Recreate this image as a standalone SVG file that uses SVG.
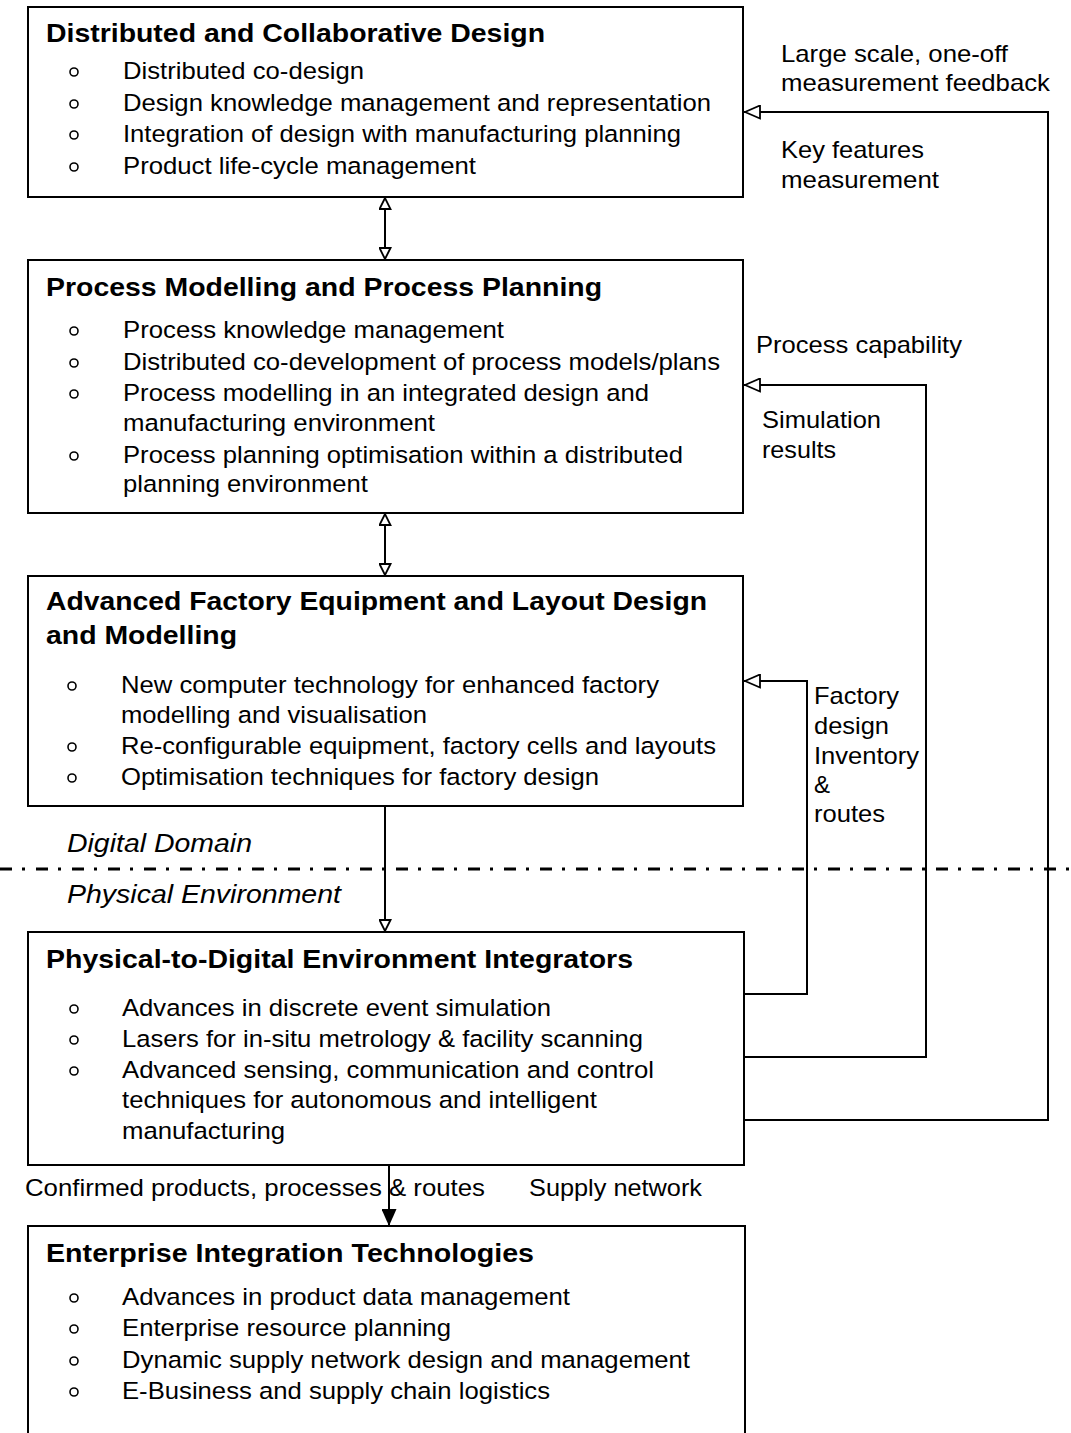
<svg xmlns="http://www.w3.org/2000/svg" width="1071" height="1433" viewBox="0 0 1071 1433">
<style>
text{font-family:"Liberation Sans",Arial,sans-serif;fill:#000}
.t{font-size:25px;font-weight:bold}
.b{font-size:24.5px}
.l{font-size:24px}
.i{font-size:25.5px;font-style:italic}
.box{fill:#fff;stroke:#000;stroke-width:2}
.dot{fill:none;stroke:#000;stroke-width:1.6}
.c{fill:none;stroke:#000;stroke-width:2}
</style>
<defs>
<marker id="open" viewBox="0 0 13 13" refX="13" refY="6.5" markerWidth="13" markerHeight="13" markerUnits="userSpaceOnUse" orient="auto-start-reverse">
<path d="M1,1 L12,6.5 L1,12 Z" fill="#fff" stroke="#000" stroke-width="1.8"/>
</marker>
<marker id="openL" viewBox="0 0 17 15" refX="17" refY="7.5" markerWidth="17" markerHeight="15" markerUnits="userSpaceOnUse" orient="auto">
<path d="M1,1 L16,7.5 L1,14 Z" fill="#fff" stroke="#000" stroke-width="1.8"/>
</marker>
<marker id="fill" viewBox="0 0 17 15" refX="17" refY="7.5" markerWidth="17" markerHeight="15" markerUnits="userSpaceOnUse" orient="auto">
<path d="M0,0 L17,7.5 L0,15 Z" fill="#000"/>
</marker>
</defs>
<rect width="1071" height="1433" fill="#fff"/>

<g id="connectors">
<line class="c" x1="385" y1="197" x2="385" y2="260" marker-start="url(#open)" marker-end="url(#open)"/>
<line class="c" x1="385" y1="513" x2="385" y2="576" marker-start="url(#open)" marker-end="url(#open)"/>
<line class="c" x1="385" y1="806" x2="385" y2="932" marker-end="url(#open)"/>
<line class="c" x1="389" y1="1165" x2="389" y2="1226" marker-end="url(#fill)"/>
<polyline class="c" points="744,1120 1048,1120 1048,112 744,112" marker-end="url(#openL)"/>
<polyline class="c" points="744,1057 926,1057 926,385 744,385" marker-end="url(#openL)"/>
<polyline class="c" points="744,994 807,994 807,681 744,681" marker-end="url(#openL)"/>
<line x1="0" y1="869" x2="1071" y2="869" stroke="#000" stroke-width="3" stroke-dasharray="12 10 3 11"/>
</g>

<g id="n1">
<rect class="box" x="28" y="7" width="715" height="190"/>
<text class="t" x="46" y="42" textLength="499" lengthAdjust="spacingAndGlyphs">Distributed and Collaborative Design</text>
<circle class="dot" cx="74" cy="72" r="4"/><text class="b" x="123" y="79" textLength="241" lengthAdjust="spacingAndGlyphs">Distributed co-design</text>
<circle class="dot" cx="74" cy="104" r="4"/><text class="b" x="123" y="111" textLength="588" lengthAdjust="spacingAndGlyphs">Design knowledge management and representation</text>
<circle class="dot" cx="74" cy="135" r="4"/><text class="b" x="123" y="142" textLength="558" lengthAdjust="spacingAndGlyphs">Integration of design with manufacturing planning</text>
<circle class="dot" cx="74" cy="167" r="4"/><text class="b" x="123" y="174" textLength="353" lengthAdjust="spacingAndGlyphs">Product life-cycle management</text>
</g>

<g id="n2">
<rect class="box" x="28" y="260" width="715" height="253"/>
<text class="t" x="46" y="296" textLength="556" lengthAdjust="spacingAndGlyphs">Process Modelling and Process Planning</text>
<circle class="dot" cx="74" cy="331" r="4"/><text class="b" x="123" y="338" textLength="381" lengthAdjust="spacingAndGlyphs">Process knowledge management</text>
<circle class="dot" cx="74" cy="363" r="4"/><text class="b" x="123" y="370" textLength="597" lengthAdjust="spacingAndGlyphs">Distributed co-development of process models/plans</text>
<circle class="dot" cx="74" cy="394" r="4"/><text class="b" x="123" y="401" textLength="526" lengthAdjust="spacingAndGlyphs">Process modelling in an integrated design and</text>
<text class="b" x="123" y="431" textLength="312" lengthAdjust="spacingAndGlyphs">manufacturing environment</text>
<circle class="dot" cx="74" cy="456" r="4"/><text class="b" x="123" y="463" textLength="560" lengthAdjust="spacingAndGlyphs">Process planning optimisation within a distributed</text>
<text class="b" x="123" y="492" textLength="245" lengthAdjust="spacingAndGlyphs">planning environment</text>
</g>

<g id="n3">
<rect class="box" x="28" y="576" width="715" height="230"/>
<text class="t" x="46" y="610" textLength="661" lengthAdjust="spacingAndGlyphs">Advanced Factory Equipment and Layout Design</text>
<text class="t" x="46" y="644" textLength="191" lengthAdjust="spacingAndGlyphs">and Modelling</text>
<circle class="dot" cx="72" cy="686" r="4"/><text class="b" x="121" y="693" textLength="538" lengthAdjust="spacingAndGlyphs">New computer technology for enhanced factory</text>
<text class="b" x="121" y="723" textLength="306" lengthAdjust="spacingAndGlyphs">modelling and visualisation</text>
<circle class="dot" cx="72" cy="747" r="4"/><text class="b" x="121" y="754" textLength="595" lengthAdjust="spacingAndGlyphs">Re-configurable equipment, factory cells and layouts</text>
<circle class="dot" cx="72" cy="778" r="4"/><text class="b" x="121" y="785" textLength="478" lengthAdjust="spacingAndGlyphs">Optimisation techniques for factory design</text>
</g>

<g id="n4">
<rect class="box" x="28" y="932" width="716" height="233"/>
<text class="t" x="46" y="968" textLength="587" lengthAdjust="spacingAndGlyphs">Physical-to-Digital Environment Integrators</text>
<circle class="dot" cx="74" cy="1009" r="4"/><text class="b" x="122" y="1016" textLength="429" lengthAdjust="spacingAndGlyphs">Advances in discrete event simulation</text>
<circle class="dot" cx="74" cy="1040" r="4"/><text class="b" x="122" y="1047" textLength="521" lengthAdjust="spacingAndGlyphs">Lasers for in-situ metrology &amp; facility scanning</text>
<circle class="dot" cx="74" cy="1071" r="4"/><text class="b" x="122" y="1078" textLength="532" lengthAdjust="spacingAndGlyphs">Advanced sensing, communication and control</text>
<text class="b" x="122" y="1108" textLength="475" lengthAdjust="spacingAndGlyphs">techniques for autonomous and intelligent</text>
<text class="b" x="122" y="1139" textLength="163" lengthAdjust="spacingAndGlyphs">manufacturing</text>
</g>

<g id="n5">
<path class="box" d="M28,1440 L28,1226 L745,1226 L745,1440"/>
<text class="t" x="46" y="1262" textLength="488" lengthAdjust="spacingAndGlyphs">Enterprise Integration Technologies</text>
<circle class="dot" cx="74" cy="1298" r="4"/><text class="b" x="122" y="1305" textLength="448" lengthAdjust="spacingAndGlyphs">Advances in product data management</text>
<circle class="dot" cx="74" cy="1329" r="4"/><text class="b" x="122" y="1336" textLength="329" lengthAdjust="spacingAndGlyphs">Enterprise resource planning</text>
<circle class="dot" cx="74" cy="1361" r="4"/><text class="b" x="122" y="1368" textLength="568" lengthAdjust="spacingAndGlyphs">Dynamic supply network design and management</text>
<circle class="dot" cx="74" cy="1392" r="4"/><text class="b" x="122" y="1399" textLength="428" lengthAdjust="spacingAndGlyphs">E-Business and supply chain logistics</text>
</g>

<g id="labels">
<text class="l" x="781" y="62" textLength="227" lengthAdjust="spacingAndGlyphs">Large scale, one-off</text>
<text class="l" x="781" y="91" textLength="269" lengthAdjust="spacingAndGlyphs">measurement feedback</text>
<text class="l" x="781" y="158" textLength="143" lengthAdjust="spacingAndGlyphs">Key features</text>
<text class="l" x="781" y="188" textLength="158" lengthAdjust="spacingAndGlyphs">measurement</text>
<text class="l" x="756" y="353" textLength="206" lengthAdjust="spacingAndGlyphs">Process capability</text>
<text class="l" x="762" y="428" textLength="119" lengthAdjust="spacingAndGlyphs">Simulation</text>
<text class="l" x="762" y="458" textLength="74" lengthAdjust="spacingAndGlyphs">results</text>
<text class="l" x="814" y="704" textLength="85" lengthAdjust="spacingAndGlyphs">Factory</text>
<text class="l" x="814" y="734" textLength="75" lengthAdjust="spacingAndGlyphs">design</text>
<text class="l" x="814" y="764" textLength="105" lengthAdjust="spacingAndGlyphs">Inventory</text>
<text class="l" x="814" y="793">&amp;</text>
<text class="l" x="814" y="822" textLength="71" lengthAdjust="spacingAndGlyphs">routes</text>
<text class="i" x="67" y="852" textLength="185" lengthAdjust="spacingAndGlyphs">Digital Domain</text>
<text class="i" x="67" y="903" textLength="274" lengthAdjust="spacingAndGlyphs">Physical Environment</text>
<text class="l" x="25" y="1196" textLength="460" lengthAdjust="spacingAndGlyphs">Confirmed products, processes &amp; routes</text>
<text class="l" x="529" y="1196" textLength="173" lengthAdjust="spacingAndGlyphs">Supply network</text>
</g>
</svg>
